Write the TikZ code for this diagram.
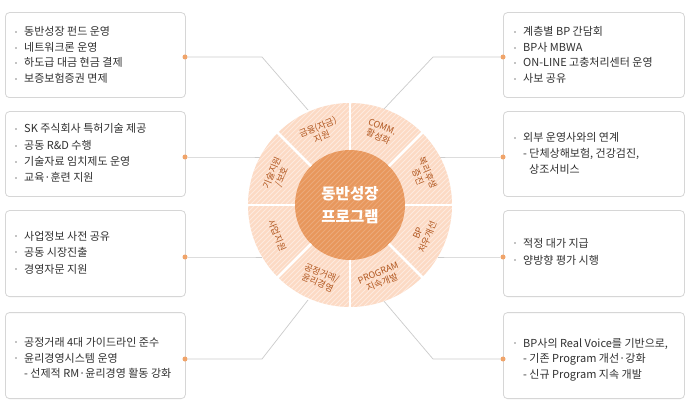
\documentclass[tikz,border=0pt]{standalone}
\usepackage{fontspec}
\setmainfont{Noto Sans CJK KR}
\definecolor{boxgray}{HTML}{D6D6D6}
\definecolor{textgray}{HTML}{303030}
\definecolor{dotorange}{HTML}{F0A46A}
\definecolor{linegray}{HTML}{CCCCCC}
\definecolor{ringc}{HTML}{FCDAC4}
\definecolor{innerc}{HTML}{E8975C}
\definecolor{segbrown}{HTML}{B0561F}
\definecolor{bulgray}{HTML}{C4C4C4}
\tikzset{
  box/.style={draw=boxgray, line width=0.8pt, rounded corners=4pt, fill=white, anchor=south west, inner sep=0pt},
  txt/.style={anchor=west, inner sep=0pt, font=\fontsize{11}{12}\selectfont, text=textgray, text height=8pt, text depth=2pt},
  bul/.style={rectangle, fill=bulgray, minimum width=1.6pt, minimum height=2.6pt, inner sep=0pt},
  dotnode/.style={circle, fill=dotorange, inner sep=0pt, minimum size=5pt},
  conn/.style={draw=linegray, line width=0.7pt},
  seg/.style={font=\fontsize{9}{10.5}\selectfont, text=segbrown, align=center, inner sep=0pt},
  sepline/.style={draw=white, line width=2.5pt},
  stripe/.style={draw=white, line width=0.8pt}
}
\begin{document}
\begin{tikzpicture}[x=1pt,y=1pt]
\useasboundingbox (0,0) rectangle (690,410);
\fill[white] (0,0) rectangle (690,410);

% boxes
\node[box, minimum width=180pt, minimum height=85pt] (b1) at (5,312) {};
\node[box, minimum width=180pt, minimum height=85pt] (b2) at (5,213) {};
\node[box, minimum width=180pt, minimum height=86pt] (b3) at (5,113) {};
\node[box, minimum width=180pt, minimum height=86pt] (b4) at (5,11) {};
\node[box, minimum width=181pt, minimum height=85pt] (b5) at (503,312) {};
\node[box, minimum width=181pt, minimum height=85pt] (b6) at (503,213) {};
\node[box, minimum width=181pt, minimum height=86pt] (b7) at (503,113) {};
\node[box, minimum width=181pt, minimum height=86pt] (b8) at (503,11) {};

% centre
\coordinate (c) at (350,205);

% connectors
\coordinate (k1) at (262,353); \coordinate (e1) at (308,300);
\coordinate (k2) at (250,253); \coordinate (e2) at (260,253);
\coordinate (k3) at (250,153); \coordinate (e3) at (262,153);
\coordinate (k4) at (262,51);  \coordinate (e4) at (308,110);
\coordinate (k5) at (433,353); \coordinate (e5) at (383,300);
\coordinate (k6) at (450,253); \coordinate (e6) at (440,253);
\coordinate (k7) at (450,153); \coordinate (e7) at (438,153);
\coordinate (k8) at (433,51);  \coordinate (e8) at (383,110);

\node[dotnode] (d1) at (185,353) {};
\node[dotnode] (d2) at (185,253) {};
\node[dotnode] (d3) at (185,153) {};
\node[dotnode] (d4) at (185,51) {};
\node[dotnode] (d5) at (503,353) {};
\node[dotnode] (d6) at (503,253) {};
\node[dotnode] (d7) at (503,153) {};
\node[dotnode] (d8) at (503,51) {};

\draw[conn] (d1) -- (k1) -- (e1);
\draw[conn] (d2) -- (k2) -- (e2);
\draw[conn] (d3) -- (k3) -- (e3);
\draw[conn] (d4) -- (k4) -- (e4);
\draw[conn] (d5) -- (k5) -- (e5);
\draw[conn] (d6) -- (k6) -- (e6);
\draw[conn] (d7) -- (k7) -- (e7);
\draw[conn] (d8) -- (k8) -- (e8);

% ring
\fill[ringc] (c) circle (102);
\begin{scope}
  \clip (c) circle (102);
  \foreach \x in {30,35,...,460} \draw[stripe, opacity=0.45] (\x,95) -- ++(220,220);
\end{scope}
\fill[innerc] (c) circle (55);
\begin{scope}
  \clip (c) circle (55);
  \foreach \x in {30,35,...,460} \draw[stripe, opacity=0.18] (\x,95) -- ++(220,220);
\end{scope}
\foreach \a in {0,45,...,315}
  \draw[sepline] ([shift={(\a:55)}]c) -- ([shift={(\a:103)}]c);

% segment labels
\node[seg, rotate=22.5]  (s1) at ([shift={(112.5:79)}]c) {금융(자금)\\지원};
\node[seg, rotate=-22.5] (s2) at ([shift={(67.5:79)}]c) {COMM.\\활성화};
\node[seg, rotate=-67.5] (s3) at ([shift={(22.5:79)}]c) {복리후생\\증진};
\node[seg, rotate=67.5]  (s4) at ([shift={(-22.5:79)}]c) {BP\\처우개선};
\node[seg, rotate=22.5]  (s5) at ([shift={(-67.5:79)}]c) {PROGRAM\\지속개발};
\node[seg, rotate=-22.5] (s6) at ([shift={(-112.5:79)}]c) {공정거래/\\윤리경영};
\node[seg, rotate=-67.5] (s7) at ([shift={(-157.5:79)}]c) {사업지원};
\node[seg, rotate=67.5]  (s8) at ([shift={(157.5:79)}]c) {기술지원\\/보호};

\node[font=\fontsize{15.5}{23}\selectfont\bfseries, text=white, align=center, inner sep=0pt] (ct) at (c) {동반성장\\프로그램};

% box 1
\node[bul] (u11) at (16,378) {}; \node[txt] (t11) at (24,377) {동반성장 펀드 운영};
\node[bul] (u12) at (16,362) {}; \node[txt] (t12) at (24,361) {네트워크론 운영};
\node[bul] (u13) at (16,347) {}; \node[txt] (t13) at (24,346) {하도급 대금 현금 결제};
\node[bul] (u14) at (16,331) {}; \node[txt] (t14) at (24,330) {보증보험증권 면제};
% box 2
\node[bul] (u21) at (16,281) {}; \node[txt] (t21) at (24,280) {SK 주식회사 특허기술 제공};
\node[bul] (u22) at (16,264) {}; \node[txt] (t22) at (24,263) {공동 R\&D 수행};
\node[bul] (u23) at (16,248) {}; \node[txt] (t23) at (24,247) {기술자료 임치제도 운영};
\node[bul] (u24) at (16,232) {}; \node[txt] (t24) at (24,231) {교육·훈련 지원};
% box 3
\node[bul] (u31) at (16,174) {}; \node[txt] (t31) at (24,173) {사업정보 사전 공유};
\node[bul] (u32) at (16,158) {}; \node[txt] (t32) at (24,157) {공동 시장진출};
\node[bul] (u33) at (16,141) {}; \node[txt] (t33) at (24,140) {경영자문 지원};
% box 4
\node[bul] (u41) at (16,68) {}; \node[txt] (t41) at (24,67) {공정거래 4대 가이드라인 준수};
\node[bul] (u42) at (16,52) {}; \node[txt] (t42) at (24,51) {윤리경영시스템 운영};
\node[txt] (t43) at (24,36) {- 선제적 RM·윤리경영 활동 강화};
% box 5
\node[bul] (u51) at (515,378) {}; \node[txt] (t51) at (523,377) {계층별 BP 간담회};
\node[bul] (u52) at (515,362) {}; \node[txt] (t52) at (523,361) {BP사 MBWA};
\node[bul] (u53) at (515,347) {}; \node[txt] (t53) at (523,346) {ON-LINE 고충처리센터 운영};
\node[bul] (u54) at (515,331) {}; \node[txt] (t54) at (523,330) {사보 공유};
% box 6
\node[bul] (u61) at (515,272) {}; \node[txt] (t61) at (523,271) {외부 운영사와의 연계};
\node[txt] (t62) at (523,255) {- 단체상해보험, 건강검진,};
\node[txt] (t63) at (529,239) {상조서비스};
% box 7
\node[bul] (u71) at (515,167) {}; \node[txt] (t71) at (523,166) {적정 대가 지급};
\node[bul] (u72) at (515,150) {}; \node[txt] (t72) at (523,149) {양방향 평가 시행};
% box 8
\node[bul] (u81) at (515,67) {}; \node[txt] (t81) at (523,66) {BP사의 Real Voice를 기반으로,};
\node[txt] (t82) at (523,51) {- 기존 Program 개선·강화};
\node[txt] (t83) at (523,35) {- 신규 Program 지속 개발};
\end{tikzpicture}
\end{document}
